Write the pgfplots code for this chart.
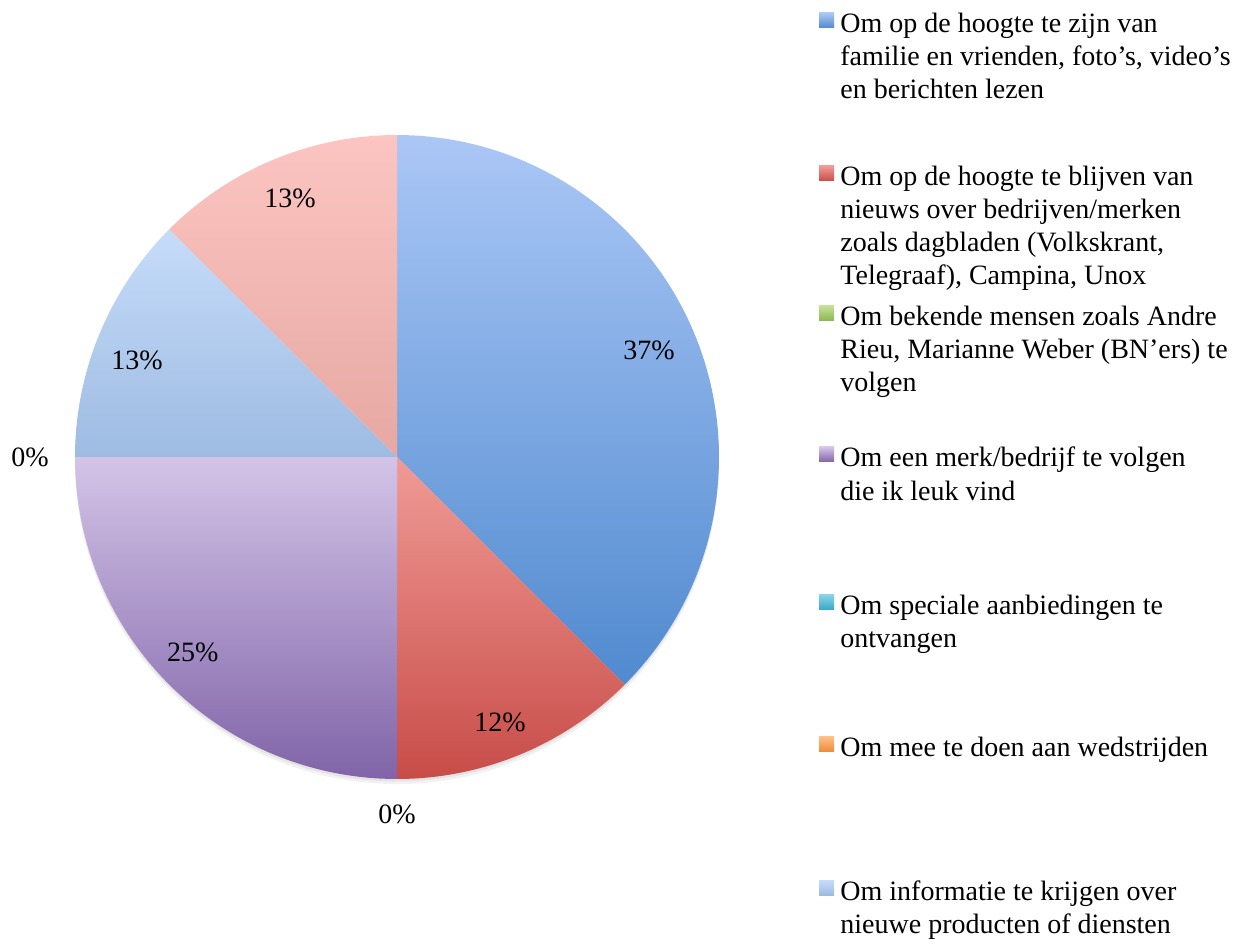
\documentclass[border=0pt]{standalone}
\usepackage{pgfplots}
\pgfplotsset{compat=1.18}
\usepackage{fontspec}
\setmainfont{Liberation Serif}
\definecolor{bT}{RGB}{171,199,246}\definecolor{bB}{RGB}{80,138,207}
\definecolor{rT}{RGB}{240,155,150}\definecolor{rB}{RGB}{200,76,72}
\definecolor{gT}{RGB}{196,224,150}\definecolor{gB}{RGB}{140,182,80}
\definecolor{pT}{RGB}{212,196,232}\definecolor{pB}{RGB}{128,100,168}
\definecolor{cT}{RGB}{140,214,234}\definecolor{cB}{RGB}{60,170,200}
\definecolor{oT}{RGB}{252,196,140}\definecolor{oB}{RGB}{240,140,60}
\definecolor{lT}{RGB}{198,220,250}\definecolor{lB}{RGB}{158,187,226}
\definecolor{kT}{RGB}{252,197,193}\definecolor{kB}{RGB}{230,168,163}
\newcommand\legfont{\fontsize{14pt}{16.5pt}\selectfont}
% slice: start (cumulative %), value (%), top colour, bottom colour
\newcommand\slice[4]{%
  \pgfmathsetmacro\aS{90-3.6*(#1+#2)}%
  \pgfmathsetmacro\aE{90-3.6*#1}%
  \edef\tmp{\noexpand\addplot[draw=none, top color=#3, bottom color=#4, domain=\aS:\aE, samples=90] ({cos(x)},{sin(x)}) -- (axis cs:0,0) -- cycle;}\tmp}
\newcommand\legentry[4]{%
  \shade[top color=#2,bottom color=#3] (409.5pt,{471.5pt-0.5pt*(#1-5)}) rectangle (417pt,{471.5pt-0.5pt*(#1-20)});
  \node[anchor=base west,inner sep=0pt] at (420pt,{471.5pt-0.5pt*#1}) {\vtop{\legfont #4}};}
\begin{document}
\begin{tikzpicture}
\useasboundingbox (0,0) rectangle (620pt,471.5pt);
\begin{axis}[at={(198.5pt,243pt)}, anchor=center, width=322pt, height=322pt,
  scale only axis, xmin=-1, xmax=1, ymin=-1, ymax=1, hide axis, clip=false]
% soft shadow
\addplot[draw=none, fill=black, fill opacity=0.05, domain=0:360, samples=120] ({cos(x)},{sin(x)-0.016}) -- cycle;
\addplot[draw=none, fill=black, fill opacity=0.06, domain=0:360, samples=120] ({cos(x)},{sin(x)-0.008}) -- cycle;
% values (%): 37.5, 12.5, 0, 25, 0, 0, 12.5, 12.5
\slice{0}{37.5}{bT}{bB}
\slice{37.5}{12.5}{rT}{rB}
\slice{50}{25}{pT}{pB}
\slice{75}{12.5}{lT}{lB}
\slice{87.5}{12.5}{kT}{kB}
\node[font=\legfont] at (axis cs:0.783,0.332) {37\%};
\node[font=\legfont] at (axis cs:0.32,-0.823) {12\%};
\node[font=\legfont] at (axis cs:0,-1.109) {0\%};
\node[font=\legfont] at (axis cs:-0.634,-0.606) {25\%};
\node[font=\legfont] at (axis cs:-1.14,0) {0\%};
\node[font=\legfont] at (axis cs:-0.807,0.301) {13\%};
\node[font=\legfont] at (axis cs:-0.332,0.804) {13\%};
\end{axis}
\legentry{33}{bT}{bB}{\hbox{Om op de hoogte te zijn van}\hbox{familie en vrienden, foto’s, video’s}\hbox{en berichten lezen}}
\legentry{186}{rT}{rB}{\hbox{Om op de hoogte te blijven van}\hbox{nieuws over bedrijven/merken}\hbox{zoals dagbladen (Volkskrant,}\hbox{Telegraaf), Campina, Unox}}
\legentry{326}{gT}{gB}{\hbox{Om bekende mensen zoals Andre}\hbox{Rieu, Marianne Weber (BN’ers) te}\hbox{volgen}}
\legentry{467}{pT}{pB}{\hbox{Om een merk/bedrijf te volgen}\hbox{die ik leuk vind}}
\legentry{614}{cT}{cB}{\hbox{Om speciale aanbiedingen te}\hbox{ontvangen}}
\legentry{756}{oT}{oB}{\hbox{Om mee te doen aan wedstrijden}}
\legentry{900}{lT}{lB}{\hbox{Om informatie te krijgen over}\hbox{nieuwe producten of diensten}}
\end{tikzpicture}
\end{document}
